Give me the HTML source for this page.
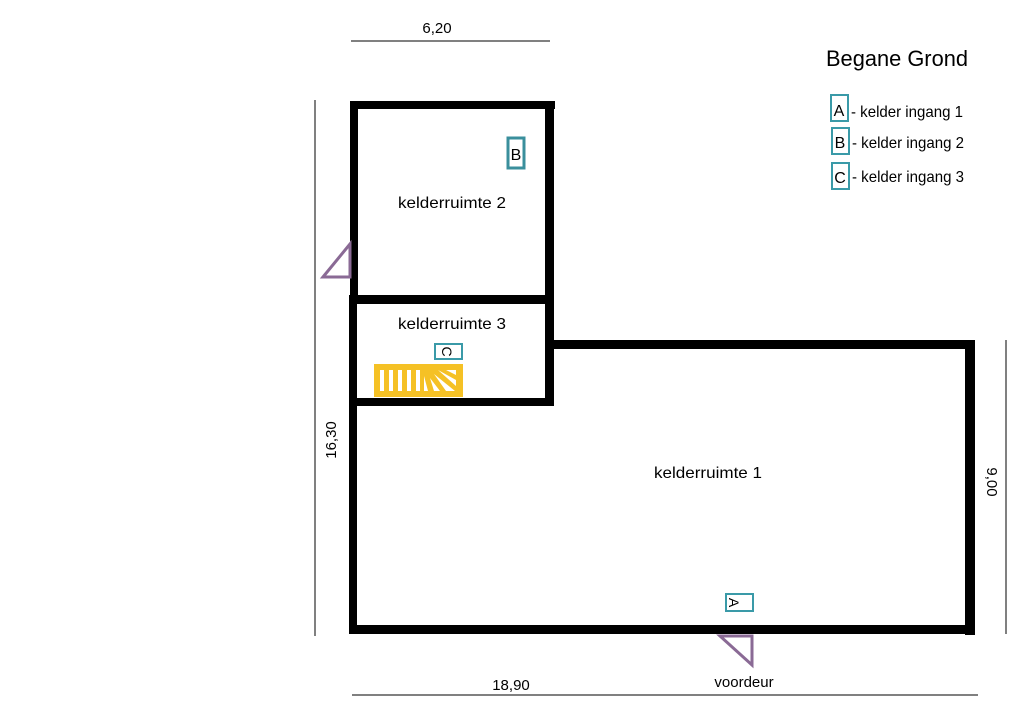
<!DOCTYPE html>
<html><head><meta charset="utf-8"><style>
html,body{margin:0;padding:0;background:#fff;}
svg{display:block;font-family:"Liberation Sans",Arial,sans-serif;}
</style></head><body>
<svg width="1024" height="723" viewBox="0 0 1024 723" xmlns="http://www.w3.org/2000/svg">
<rect width="1024" height="723" fill="#fff"/>
<line x1="351" y1="41" x2="550" y2="41" stroke="#000" stroke-width="1"/>
<text x="437" y="33" font-size="15" text-anchor="middle">6,20</text>
<line x1="315" y1="100" x2="315" y2="636" stroke="#000" stroke-width="1"/>
<text transform="translate(336,440) rotate(-90)" font-size="15" text-anchor="middle">16,30</text>
<line x1="1006" y1="340" x2="1006" y2="634" stroke="#000" stroke-width="1"/>
<text transform="translate(987,482) rotate(90)" font-size="15" text-anchor="middle">9,00</text>
<line x1="352" y1="695" x2="978" y2="695" stroke="#000" stroke-width="1"/>
<text x="511" y="690" font-size="15" text-anchor="middle">18,90</text>
<text x="744" y="687" font-size="15" text-anchor="middle">voordeur</text>

<g fill="#000">
<rect x="350" y="101" width="205" height="8"/>
<rect x="350" y="101" width="8" height="200"/>
<rect x="545" y="101" width="9" height="304"/>
<rect x="349" y="295" width="205" height="9"/>
<rect x="349" y="295" width="8" height="110"/>
<rect x="349" y="398" width="205" height="8"/>
<rect x="545" y="340" width="430" height="9"/>
<rect x="965" y="340" width="10" height="295"/>
<rect x="349" y="340" width="8" height="294"/>
<rect x="349" y="625" width="626" height="9"/>
</g>
<polygon points="323,277 350,244 350,277" fill="none" stroke="#8a6a95" stroke-width="3"/>
<polygon points="720,636 752,636 752,665" fill="none" stroke="#8a6a95" stroke-width="3"/>

<rect x="374" y="364" width="89" height="33" fill="#f5c125"/>
<g fill="#fff">
<rect x="380" y="370" width="4" height="21"/>
<rect x="389" y="370" width="4" height="21"/>
<rect x="398" y="370" width="4" height="21"/>
<rect x="407" y="370" width="4" height="21"/>
<rect x="416" y="370" width="4" height="21"/>
<polygon points="424,376 428,391 424,391"/>
<polygon points="430,378 440,391 434,391"/>
<polygon points="434,374 455,391 446,391"/>
<polygon points="438,370 456,380 456,386"/>
<polygon points="446,370 456,370 456,375"/>
</g>

<text x="452" y="208" font-size="16" text-anchor="middle" textLength="108" lengthAdjust="spacingAndGlyphs">kelderruimte 2</text>
<text x="452" y="329" font-size="16" text-anchor="middle" textLength="108" lengthAdjust="spacingAndGlyphs">kelderruimte 3</text>
<text x="708" y="478" font-size="16" text-anchor="middle" textLength="108" lengthAdjust="spacingAndGlyphs">kelderruimte 1</text>

<rect x="508" y="138" width="16" height="30" fill="none" stroke="#3a8f9c" stroke-width="3"/>
<text x="516" y="160" font-size="16" text-anchor="middle">B</text>
<rect x="435" y="344" width="27" height="15" fill="none" stroke="#3a9aa8" stroke-width="2"/>
<text transform="translate(447,351.5) rotate(90)" font-size="14" text-anchor="middle" dy="5">C</text>
<rect x="726" y="594" width="27" height="17" fill="none" stroke="#3a9aa8" stroke-width="2"/>
<text transform="translate(734,602.5) rotate(90)" font-size="14" text-anchor="middle" dy="5">A</text>

<text x="826" y="66" font-size="22" textLength="142" lengthAdjust="spacingAndGlyphs">Begane Grond</text>
<rect x="831" y="95" width="17" height="26" fill="none" stroke="#3a9aa8" stroke-width="2"/>
<text x="839" y="116" font-size="16" text-anchor="middle">A</text>
<text x="851" y="117" font-size="16" textLength="112" lengthAdjust="spacingAndGlyphs">- kelder ingang 1</text>
<rect x="832" y="128" width="17" height="26" fill="none" stroke="#3a9aa8" stroke-width="2"/>
<text x="840" y="148" font-size="16" text-anchor="middle">B</text>
<text x="852" y="148" font-size="16" textLength="112" lengthAdjust="spacingAndGlyphs">- kelder ingang 2</text>
<rect x="832" y="163" width="17" height="26" fill="none" stroke="#3a9aa8" stroke-width="2"/>
<text x="840" y="183" font-size="16" text-anchor="middle">C</text>
<text x="852" y="182" font-size="16" textLength="112" lengthAdjust="spacingAndGlyphs">- kelder ingang 3</text>
</svg>
</body></html>
